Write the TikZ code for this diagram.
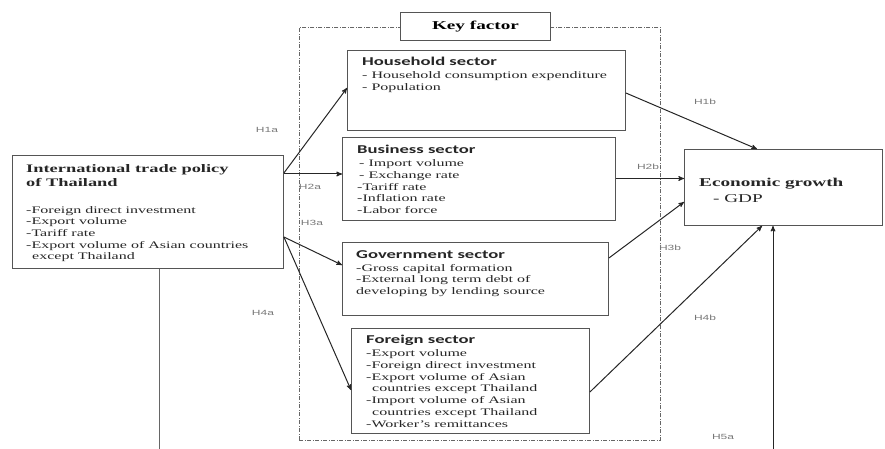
\documentclass[tikz,border=0pt]{standalone}
\usepackage{fontspec}
\setmainfont{Liberation Serif}[FakeStretch=1.6]
\newfontfamily\sectorfont{Carlito}[FakeStretch=1.55]
\newfontfamily\hypfont{Liberation Sans}[FakeStretch=1.6]
\usetikzlibrary{arrows}
\usetikzlibrary{calc}
\usetikzlibrary{positioning}
\definecolor{boxline}{RGB}{85, 85, 85}
\definecolor{hypgray}{RGB}{120, 120, 120}
\tikzset{
  box/.style={draw=boxline, line width=0.9pt, anchor=north west, inner sep=0, fill=white},
  frame/.style={draw=black!60, line width=0.8pt, anchor=north west, inner sep=0,
    dash pattern=on 4pt off 1.5pt on 1pt off 1.5pt},
  boxtext/.style={inner sep=0, align=left, text=black!85,
    font=\fontsize{10}{11.7}\selectfont},
  hyp/.style={font=\hypfont\fontsize{7.5}{9}\selectfont, text=hypgray, inner sep=0},
  arrow/.style={->, >=stealth', line width=1pt, black!85}
}
\newcommand{\sectortitle}[1]{{\sectorfont\bfseries\fontsize{12}{13}\selectfont #1}\\[1.5pt]}

\begin{document}
\begin{tikzpicture}[x=1pt, y=-1pt]
\useasboundingbox (0,0) rectangle (885,449);

% key factor frame
\node[frame, minimum width=361pt, minimum height=413pt] (kf) at (299,27) {};
\node[box, minimum width=150pt, minimum height=28pt,
      font=\bfseries\fontsize{12}{14}\selectfont] (key) at (400,12) {Key factor};

% trade policy
\node[box, minimum width=271pt, minimum height=113pt] (thai) at (12,155) {};
\node[boxtext, font=\bfseries\fontsize{11.5}{14}\selectfont,
      below right=9pt and 14pt of thai.north west] (thai-title)
  {International trade policy\\of Thailand};
\node[boxtext, below right=51pt and 14pt of thai.north west] (thai-items)
  {-Foreign direct investment\\-Export volume\\-Tariff rate\\
   -Export volume of Asian countries\\\hspace*{6pt}except Thailand};

% sectors
\node[box, minimum width=278pt, minimum height=80pt] (hh) at (347,50) {};
\node[boxtext, below right=7pt and 15pt of hh.north west] (hh-text)
  {\sectortitle{Household sector}- Household consumption expenditure\\- Population};

\node[box, minimum width=273pt, minimum height=83pt] (bus) at (342,137) {};
\node[boxtext, below right=8pt and 15pt of bus.north west] (bus-text)
  {\sectortitle{Business sector}\hspace*{2pt}- Import volume\\\hspace*{2pt}- Exchange rate\\
   -Tariff rate\\-Inflation rate\\-Labor force};

\node[box, minimum width=266pt, minimum height=73pt] (gov) at (342,242) {};
\node[boxtext, below right=8pt and 14pt of gov.north west] (gov-text)
  {\sectortitle{Government sector}-Gross capital formation\\
   -External long term debt of\\developing by lending source};

\node[box, minimum width=238pt, minimum height=105pt] (for) at (351,328) {};
\node[boxtext, below right=7pt and 15pt of for.north west] (for-text)
  {\sectortitle{Foreign sector}-Export volume\\-Foreign direct investment\\
   -Export volume of Asian\\\hspace*{6pt}countries except Thailand\\
   -Import volume of Asian\\\hspace*{6pt}countries except Thailand\\
   -Worker's remittances};

% economic growth
\node[box, minimum width=198pt, minimum height=76pt] (econ) at (684,149) {};
\node[boxtext, anchor=west, font=\bfseries\fontsize{12}{14}\selectfont]
  (econ-title) at (699,184) {Economic growth};
\node[boxtext, anchor=west, font=\fontsize{12}{14}\selectfont]
  (econ-gdp) at (713,199) {- GDP};

% hypotheses
\draw[arrow] ($(thai.north east)+(0,18)$) -- ($(hh.north west)+(0,38)$);
\draw[arrow] ($(thai.north east)+(0,19)$) -- ($(bus.north west)+(0,37)$);
\draw[arrow] ($(thai.north east)+(0,82)$) -- ($(gov.north west)+(0,23)$);
\draw[arrow] ($(thai.north east)+(0,82)$) -- ($(for.north west)+(0,62)$);
\draw[arrow] ($(hh.north east)+(0,43)$) -- ($(econ.north west)+(73,0)$);
\draw[arrow] ($(bus.north east)+(0,41.5)$) -- ($(econ.north west)+(0,29.5)$);
\draw[arrow] ($(gov.north east)+(0,16)$) -- ($(econ.north west)+(0,53)$);
\draw[arrow] ($(for.north east)+(0,64)$) -- ($(econ.south west)+(78,0)$);
\coordinate (h5-start) at (773,452);
\draw[arrow] (h5-start) -- (econ.south west -| h5-start);
\coordinate (thai-down) at (159,452);
\draw[line width=1pt, black!60] (thai.south -| thai-down) -- (thai-down);

\node[hyp] (h1a) at (267,130) {H1a};
\node[hyp] (h2a) at (310,187) {H2a};
\node[hyp] (h3a) at (312,223) {H3a};
\node[hyp] (h4a) at (263,313) {H4a};
\node[hyp] (h1b) at (705,102) {H1b};
\node[hyp] (h2b) at (648,167) {H2b};
\node[hyp] (h3b) at (670,248) {H3b};
\node[hyp] (h4b) at (705,318) {H4b};
\node[hyp] (h5a) at (723,437) {H5a};
\end{tikzpicture}
\end{document}
